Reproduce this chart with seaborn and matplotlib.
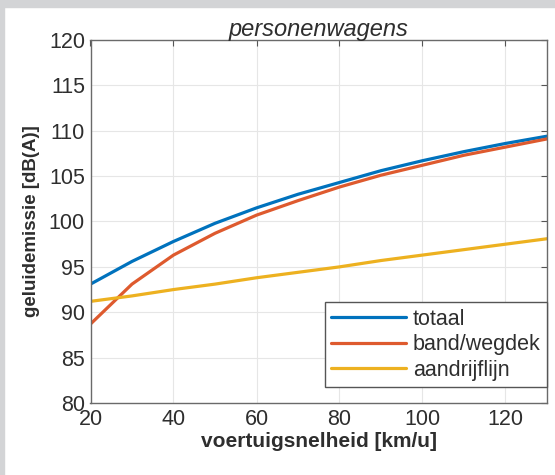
import matplotlib
matplotlib.use("Agg")
import matplotlib.pyplot as plt
import seaborn as sns
import pandas as pd
from matplotlib.patches import Rectangle

# values
snelheid = [20, 30, 40, 50, 60, 70, 80, 90, 100, 110, 120, 130]
totaal = [93.1, 95.6, 97.8, 99.8, 101.5, 103.0, 104.3, 105.6, 106.7, 107.7, 108.6, 109.4]
band_wegdek = [88.7, 93.1, 96.3, 98.7, 100.7, 102.3, 103.8, 105.1, 106.2, 107.3, 108.2, 109.1]
aandrijflijn = [91.2, 91.8, 92.5, 93.1, 93.8, 94.4, 95.0, 95.7, 96.3, 96.9, 97.5, 98.1]

series = ["totaal", "band/wegdek", "aandrijflijn"]
kleuren = ["#0072BD", "#DE5A2E", "#EDB120"]

df = pd.DataFrame({
    "snelheid": snelheid * 3,
    "niveau": totaal + band_wegdek + aandrijflijn,
    "bron": [s for s in series for _ in snelheid],
})

sns.set_style("white")
plt.rcParams["font.family"] = ["Liberation Sans", "DejaVu Sans"]

fig = plt.figure(figsize=(5.55, 4.75), dpi=100, facecolor="white")
ax = fig.add_axes([90.5 / 555, 72 / 475, 456.5 / 555, 363 / 475])

# grey frame strips of the screenshot
fig.patches.append(Rectangle((0, 1 - 7 / 475), 1, 7 / 475, transform=fig.transFigure,
                             color="#d3d4d6", zorder=0))
fig.patches.append(Rectangle((0, 0), 4 / 555, 1, transform=fig.transFigure,
                             color="#d3d4d6", zorder=0))

sns.lineplot(data=df, x="snelheid", y="niveau", hue="bron", hue_order=series,
             palette=kleuren, linewidth=2.3, ax=ax, sort=False)

ax.set_xlim(20, 130)
ax.set_ylim(80, 120)
ax.set_xticks(range(20, 121, 20))
ax.set_yticks(range(80, 121, 5))
ax.grid(True, color="#e6e6e6", linewidth=0.8)
ax.tick_params(direction="in", length=4, top=True, right=True, labelsize=15.5,
               colors="#555555", labelcolor="#2e2e2e", pad=4)
for sp in ax.spines.values():
    sp.set_color("#6a6a6a")
    sp.set_linewidth(1.0)

ax.set_xlabel("voertuigsnelheid [km/u]", fontsize=15, fontweight="bold", color="#2e2e2e", labelpad=2)
ax.set_ylabel("geluidemissie [dB(A)]", fontsize=13.5, fontweight="bold", color="#2e2e2e", labelpad=6)
ax.set_title("personenwagens", fontsize=17, style="italic", color="#2e2e2e", pad=3)

leg = ax.legend(title=None, loc="lower right", bbox_to_anchor=(1.0, 16 / 363),
                borderaxespad=0, fontsize=15.5, frameon=True, fancybox=False,
                handlelength=3.5, handletextpad=0.3, labelspacing=0.2,
                borderpad=0.3, framealpha=1)
leg.get_frame().set_edgecolor("#555555")
leg.get_frame().set_linewidth(1.0)
for t in leg.get_texts():
    t.set_color("#2e2e2e")

fig.savefig("out.png", dpi=100, facecolor="white")
